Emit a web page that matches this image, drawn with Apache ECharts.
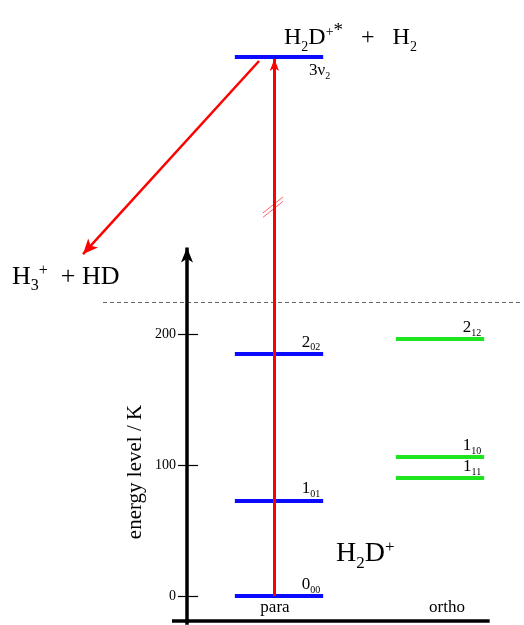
<!DOCTYPE html>
<html>
<head>
<meta charset="utf-8">
<script src="https://cdn.jsdelivr.net/npm/echarts@6/dist/echarts.min.js"></script>
<style>html,body{margin:0;padding:0;background:#fff}#c{width:524px;height:625px}</style>
</head>
<body>
<div id="c"></div>
<script>
// ---- data (energies in K, on the drawn axis scale) ----
var yTicks = [0, 100, 200];
var paraNames = ['0_00', '1_01', '2_02'];
var paraEnergies = [0, 73, 185];
var orthoNames = ['1_11', '1_10', '2_12'];
var orthoEnergies = [90, 106, 196];
var thresholdEnergy = 224;          // H3+ + HD dissociation limit (dashed line)
var upperName = '3ν_2';
var upperEnergy = 412;              // 3ν2 level, drawn above the broken axis
var columns = ['para', 'ortho'];
var columnPos = [1, 2.75];
var productEnergy = 261;            // where the decay arrow ends (H3+ + HD)
var productPos = -1.13;

// ---- layout helpers (styles/positions, not data) ----
var HALF = 0.48;
var FONT = 'Liberation Serif';
var axisTop = 266, axisBottom = -22, xAxisLevel = -19, xAxisLeft = -0.163, xAxisRight = 3.29;

function levelLabel(n) {
  var p = n.split('_');
  return '{n|' + p[0] + '}{s|' + p[1] + '}';
}
var levelRich = {
  n: {fontFamily: FONT, fontSize: 17, color: '#000', lineHeight: 20, verticalAlign: 'bottom'},
  s: {fontFamily: FONT, fontSize: 10, color: '#000', lineHeight: 10, verticalAlign: 'bottom', padding: [0, 0, -2, 0]}
};

function level(name, e, center, color, pos, offset) {
  return [
    {coord: [center - HALF, e], lineStyle: {color: color, width: 4, type: 'solid'},
     label: {show: true, position: pos || 'insideEndTop', formatter: levelLabel(name), rich: levelRich,
             distance: 3, offset: offset || [0, 0]}},
    {coord: [center + HALF, e]}
  ];
}

var marks = [];
paraNames.forEach(function (n, i) { marks.push(level(n, paraEnergies[i], columnPos[0], '#0a0aff')); });
orthoNames.forEach(function (n, i) { marks.push(level(n, orthoEnergies[i], columnPos[1], '#1ee61e')); });
marks.push(level(upperName, upperEnergy, columnPos[0], '#0a0aff', 'insideEndBottom', [10, 0]));

// dashed threshold
marks.push([
  {coord: [-0.913, thresholdEnergy], lineStyle: {color: '#666', width: 1, type: [4, 3]}, label: {show: false}},
  {coord: [3.65, thresholdEnergy]}
]);
// x axis line
marks.push([
  {coord: [xAxisLeft, xAxisLevel], lineStyle: {color: '#000', width: 3.5, type: 'solid'}, label: {show: false}},
  {coord: [xAxisRight, xAxisLevel]}
]);
// y ticks
yTicks.forEach(function (t) {
  marks.push([
    {coord: [-0.098, t], lineStyle: {color: '#000', width: 1.2, type: 'solid'},
     label: {show: true, position: 'start', formatter: String(t), fontFamily: FONT, fontSize: 14, color: '#000', distance: 2}},
    {coord: [0.12, t]}
  ]);
});
// break marks on the excitation arrow
[[292.4, 304.6], [289.0, 301.2]].forEach(function (b) {
  marks.push([
    {coord: [0.826, b[0]], lineStyle: {color: '#ff6060', width: 1, type: 'solid'}, label: {show: false}},
    {coord: [1.043, b[1]]}
  ]);
});

var arrows = [
  // y axis
  [{coord: [0, axisBottom], lineStyle: {color: '#000', width: 3.5, type: 'solid'}, label: {show: false}},
   {coord: [0, axisTop], symbol: 'arrow', symbolSize: [9, 15]}],
  // excitation arrow
  [{coord: [columnPos[0] - 0.05, paraEnergies[0]], lineStyle: {color: '#ff0000', width: 3, type: 'solid'}, label: {show: false}},
   {coord: [columnPos[0] - 0.05, upperEnergy - 2], symbol: 'arrow', symbolSize: [7, 12]}],
  // decay arrow
  [{coord: [0.783, upperEnergy - 3.6], lineStyle: {color: '#ff0000', width: 2.5, type: 'solid'}, label: {show: false}},
   {coord: [productPos, productEnergy], symbol: 'arrow', symbolSize: [10, 15]}]
];

var chart = echarts.init(document.getElementById('c'), null, {renderer: 'canvas'});

var big = {fontFamily: FONT, color: '#000'};
function chem(size) {
  var sm = Math.round(size * 0.6);
  return {
    b: Object.assign({fontSize: size, lineHeight: size + 8}, big),
    s: Object.assign({fontSize: sm, lineHeight: Math.round(size * 0.8), verticalAlign: 'bottom'}, big),
    p: Object.assign({fontSize: sm, lineHeight: sm, verticalAlign: 'top', padding: [3, 0, 0, 0]}, big),
    t: Object.assign({fontSize: Math.round(size * 0.8), lineHeight: Math.round(size * 0.8), verticalAlign: 'top', padding: [0, 0, 0, 0]}, big)
  };
}

chart.setOption({
  animation: false,
  grid: {left: 3, top: 19.6, width: 519.8, height: 605.2},
  xAxis: {type: 'value', min: -2, max: 3.65, show: false},
  yAxis: {type: 'value', min: -22, max: 440, show: false},
  series: [{
    type: 'line', data: [], silent: true,
    markLine: {silent: true, symbol: ['none', 'none'], precision: 3, data: marks}
  }, {
    type: 'line', data: [], silent: true,
    markLine: {silent: true, symbol: ['none', 'none'], precision: 3, data: arrows}
  }],
  graphic: [
    {type: 'text', left: 284, top: 22, style: {text: '{b|H}{s|2}{b|D}{p|+}{t|*}{b|   +   H}{s|2}', rich: chem(24)}},
    {type: 'text', left: 12, top: 260, style: {text: '{b|H}{s|3}{p|+}{b|  + HD}', rich: chem(26)}},
    {type: 'text', left: 336, top: 536, style: {text: '{b|H}{s|2}{b|D}{p|+}', rich: chem(28)}},
    {type: 'text', x: 135, y: 472, rotation: Math.PI / 2,
     style: {text: 'energy level / K', fontFamily: FONT, fontSize: 21, fill: '#000', align: 'center', verticalAlign: 'middle'}},
    {type: 'text', x: 187 + 92 * columnPos[0] - 4, y: 608,
     style: {text: columns[0], fontFamily: FONT, fontSize: 17, fill: '#000', align: 'center', verticalAlign: 'middle'}},
    {type: 'text', x: 187 + 92 * columnPos[1] + 7, y: 608,
     style: {text: columns[1], fontFamily: FONT, fontSize: 17, fill: '#000', align: 'center', verticalAlign: 'middle'}}
  ]
});
</script>
</body>
</html>
